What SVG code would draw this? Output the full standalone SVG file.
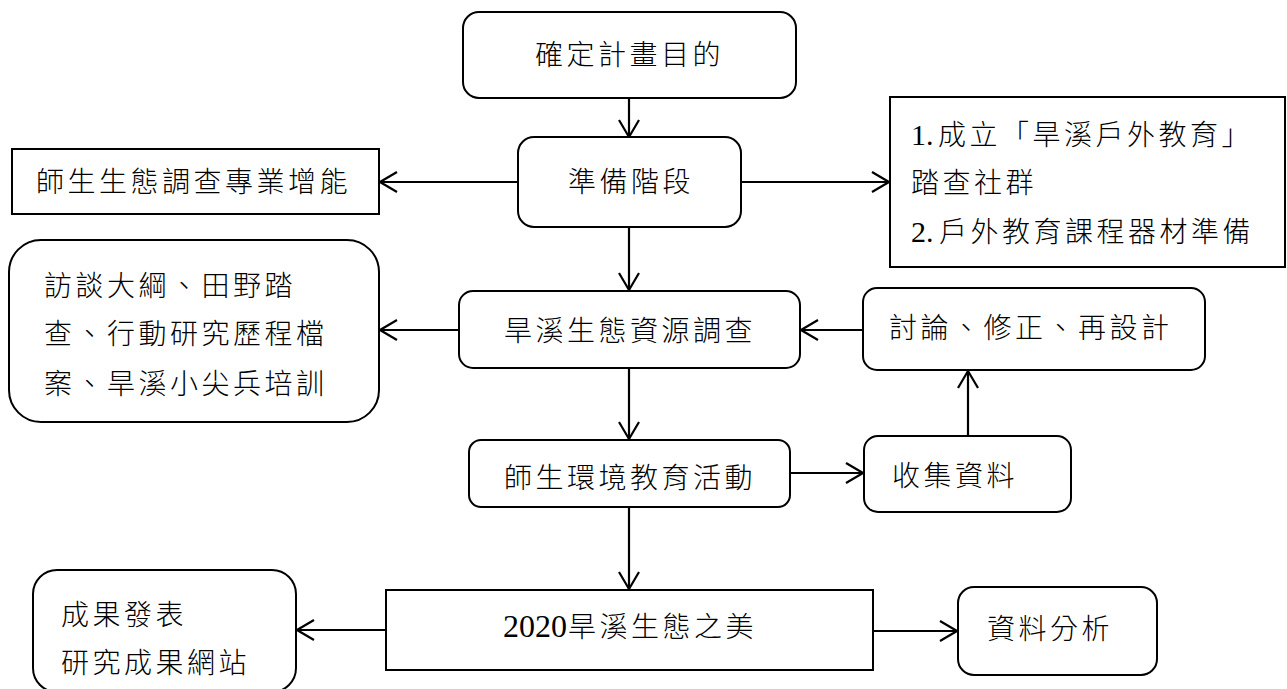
<svg xmlns="http://www.w3.org/2000/svg" width="1287" height="689" viewBox="0 0 1287 689">
<defs>
<marker id="arr" markerUnits="userSpaceOnUse" markerWidth="22" markerHeight="24" refX="19" refY="11" orient="auto">
<path d="M2,1 L19,11 L2,21" fill="none" stroke="#000" stroke-width="2.2" stroke-linejoin="round"/>
</marker>
<style>
.box{fill:#fff;stroke:#000;stroke-width:2}
.t{font-family:"Noto Sans CJK TC","Noto Sans CJK SC",sans-serif;font-size:28px;letter-spacing:3.5px;fill:#000;font-weight:300}
.n{font-family:"Liberation Serif",serif;letter-spacing:0}
.c line{stroke:#000;stroke-width:2.2;marker-end:url(#arr)}
</style>
</defs>
<rect width="1287" height="689" fill="#fff"/>
<g class="c" id="connectors">
<line x1="629" y1="98" x2="629" y2="137"/>
<line x1="518" y1="182" x2="380" y2="182"/>
<line x1="741" y1="182" x2="889" y2="182"/>
<line x1="629" y1="227" x2="629" y2="290"/>
<line x1="459" y1="330" x2="380" y2="330"/>
<line x1="863" y1="330" x2="801" y2="330"/>
<line x1="629" y1="368" x2="629" y2="439"/>
<line x1="790" y1="473" x2="863" y2="473"/>
<line x1="968" y1="436" x2="968" y2="371"/>
<line x1="629" y1="507" x2="629" y2="589"/>
<line x1="386" y1="630" x2="297" y2="630"/>
<line x1="873" y1="631" x2="957" y2="631"/>
</g>
<g id="n1"><rect class="box" x="463" y="12" width="333" height="86" rx="16"/><text class="t" x="535" y="65">確定計畫目的</text></g>
<g id="n2"><rect class="box" x="518" y="137" width="223" height="90" rx="16"/><text class="t" x="568" y="192">準備階段</text></g>
<g id="n3"><rect class="box" x="12" y="149" width="367" height="65"/><text class="t" x="36" y="192">師生生態調查專業增能</text></g>
<g id="n4"><rect class="box" x="890" y="97" width="395" height="170"/>
<text class="t" y="145"><tspan class="n" x="911" font-size="30">1.</tspan><tspan x="938">成立「旱溪戶外教育」</tspan></text>
<text class="t" x="911" y="193">踏查社群</text>
<text class="t" y="242"><tspan class="n" x="911" font-size="30">2.</tspan><tspan x="939">戶外教育課程器材準備</tspan></text></g>
<g id="n5"><rect class="box" x="459" y="291" width="341" height="77" rx="14"/><text class="t" x="504" y="341">旱溪生態資源調查</text></g>
<g id="n6"><rect class="box" x="9" y="240" width="370" height="182" rx="32"/>
<text class="t" x="44" y="296">訪談大綱、田野踏</text>
<text class="t" x="44" y="344">查、行動研究歷程檔</text>
<text class="t" x="44" y="394">案、旱溪小尖兵培訓</text></g>
<g id="n7"><rect class="box" x="863" y="288" width="342" height="82" rx="14"/><text class="t" x="889" y="338">討論、修正、再設計</text></g>
<g id="n8"><rect class="box" x="469" y="440" width="321" height="67" rx="12"/><text class="t" x="504" y="488">師生環境教育活動</text></g>
<g id="n9"><rect class="box" x="864" y="436" width="207" height="76" rx="14"/><text class="t" x="892" y="486">收集資料</text></g>
<g id="n10"><rect class="box" x="386" y="590" width="487" height="80"/>
<text class="t" y="637"><tspan class="n" x="503" font-size="32">2020</tspan><tspan x="568">旱溪生態之美</tspan></text></g>
<g id="n11"><rect class="box" x="33" y="570" width="263" height="122" rx="24"/>
<text class="t" x="61" y="625">成果發表</text>
<text class="t" x="61" y="673">研究成果網站</text></g>
<g id="n12"><rect class="box" x="958" y="587" width="199" height="88" rx="16"/><text class="t" x="987" y="639">資料分析</text></g>
</svg>
